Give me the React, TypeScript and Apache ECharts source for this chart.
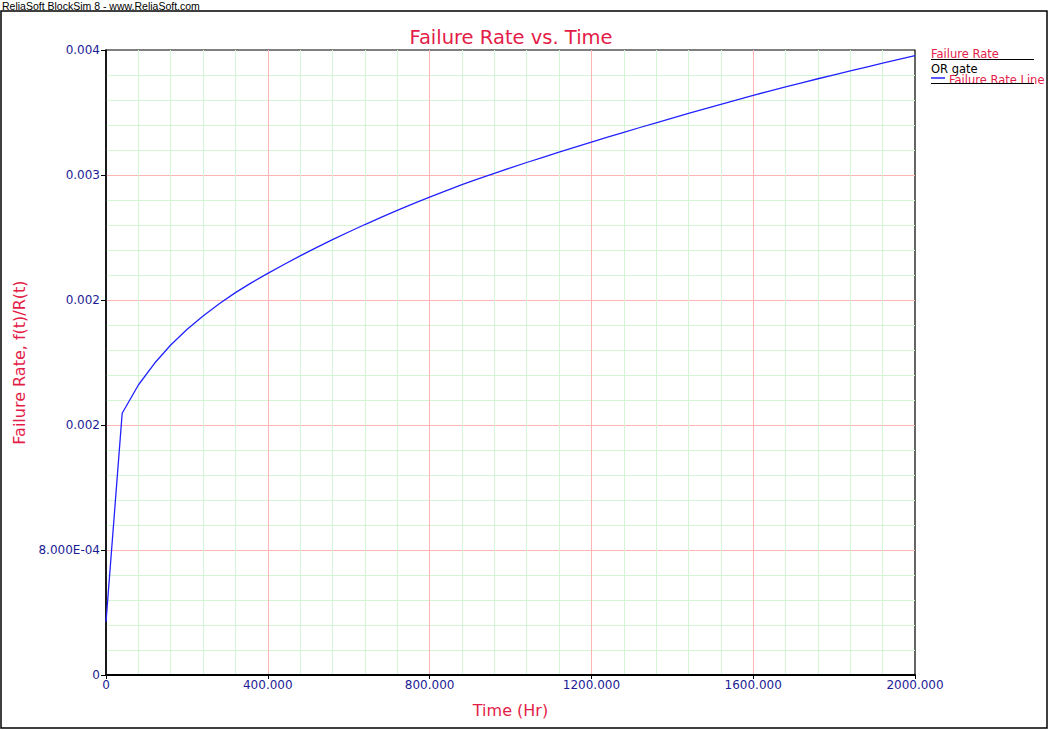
import React, { useEffect, useRef } from "react";
import * as echarts from "echarts";

const times = [0, 40, 80, 120, 160, 200, 240, 280, 320, 360, 400, 440, 480, 520, 560, 600, 640, 680, 720, 760, 800, 840, 880, 920, 960, 1000, 1040, 1080, 1120, 1160, 1200, 1240, 1280, 1320, 1360, 1400, 1440, 1480, 1520, 1560, 1600, 1640, 1680, 1720, 1760, 1800, 1840, 1880, 1920, 1960, 2000];
const failureRate = [
  0.00034, 0.001675, 0.001856, 0.001995, 0.002112, 0.002211, 0.002298, 0.002376, 0.002447, 0.002511,
  0.00257, 0.002627, 0.002682, 0.002735, 0.002786, 0.002835, 0.002883, 0.002929, 0.002974, 0.003017,
  0.003059, 0.003099, 0.003138, 0.003175, 0.003211, 0.003246, 0.00328, 0.003313, 0.003346, 0.003378,
  0.00341, 0.003442, 0.003473, 0.003504, 0.003534, 0.003564, 0.003594, 0.003623, 0.003652, 0.003681,
  0.00371, 0.003737, 0.003764, 0.00379, 0.003816, 0.003841, 0.003866, 0.003891, 0.003916, 0.00394,
  0.003964,
];
const yTickLabels = ["0", "8.000E-04", "0.002", "0.002", "0.003", "0.004"];
const xTickLabels = ["0", "400.000", "800.000", "1200.000", "1600.000", "2000.000"];

const FONT = "DejaVu Sans";
const NAVY = "#1c1c96";
const CRIMSON = "#e31c48";
const PINK = "#ffb4b4";
const GREEN = "#d4f6d4";

export default function App() {
  const ref = useRef<HTMLDivElement>(null);
  useEffect(() => {
    document.body.style.margin = "0";
    const chart = echarts.init(ref.current!, null, { renderer: "svg" });
    chart.setOption({
      animation: false,
      backgroundColor: "#fff",
      textStyle: { fontFamily: FONT },
      title: {
        text: "Failure Rate vs. Time",
        left: 506,
        textAlign: "center",
        top: 22,
        textStyle: { color: CRIMSON, fontSize: 19.5, fontWeight: "normal", fontFamily: FONT },
      },
      grid: {
        left: 106,
        right: 135,
        top: 50,
        bottom: 55,
        show: true,
        borderColor: "#000",
        borderWidth: 1.2,
        containLabel: false,
      },
      xAxis: {
        type: "value",
        min: 0,
        max: 2000,
        interval: 400,
        name: "Time (Hr)",
        nameLocation: "middle",
        nameGap: 27,
        nameTextStyle: { color: CRIMSON, fontSize: 16, fontFamily: FONT },
        axisLine: { show: true, lineStyle: { color: "#000", width: 2 } },
        axisTick: { show: true, length: 4, lineStyle: { color: "#000" } },
        axisLabel: {
          color: NAVY,
          fontSize: 12,
          fontFamily: FONT,
          margin: 4,
          formatter: (v: number) => xTickLabels[Math.round(v / 400)],
        },
        splitLine: { show: true, showMinLine: false, showMaxLine: false, lineStyle: { color: PINK, width: 1 } },
        minorTick: { show: false, splitNumber: 5 },
        minorSplitLine: { show: true, lineStyle: { color: GREEN, width: 1 } },
      },
      yAxis: {
        type: "value",
        min: 0,
        max: 0.004,
        interval: 0.0008,
        name: "Failure Rate, f(t)/R(t)",
        nameLocation: "middle",
        nameGap: 76,
        nameTextStyle: { color: CRIMSON, fontSize: 16, fontFamily: FONT },
        axisLine: { show: true, lineStyle: { color: "#000", width: 1.5 } },
        axisTick: { show: true, length: 5, lineStyle: { color: "#000" } },
        axisLabel: {
          color: NAVY,
          fontSize: 12,
          fontFamily: FONT,
          margin: 6,
          formatter: (v: number) => yTickLabels[Math.round(v / 0.0008)],
        },
        splitLine: { show: true, showMinLine: false, showMaxLine: false, lineStyle: { color: PINK, width: 1 } },
        minorTick: { show: false, splitNumber: 5 },
        minorSplitLine: { show: true, lineStyle: { color: GREEN, width: 1 } },
      },
      series: [
        {
          type: "line",
          name: "Failure Rate Line",
          data: times.map((t, i) => [t, failureRate[i]]),
          showSymbol: false,
          symbol: "none",
          lineStyle: { color: "#2222ff", width: 1.3 },
          z: 10,
        },
      ],
      graphic: [
        {
          type: "rect",
          shape: { x: 1, y: 11, width: 1046, height: 717 },
          style: { fill: "none", stroke: "#000", lineWidth: 1.5 },
          silent: true,
        },
        {
          type: "text",
          x: 2,
          y: 0,
          style: { text: "ReliaSoft BlockSim 8 - www.ReliaSoft.com", fill: "#000", font: "10.5px 'Liberation Sans'" },
        },
        {
          type: "text",
          x: 931,
          y: 48,
          style: { text: "Failure Rate", fill: CRIMSON, font: `11.5px ${FONT}` },
        },
        {
          type: "line",
          shape: { x1: 931, y1: 59.5, x2: 1034, y2: 59.5 },
          style: { stroke: "#000", lineWidth: 1 },
        },
        {
          type: "text",
          x: 931,
          y: 63,
          style: { text: "OR gate", fill: "#000", font: `11.5px ${FONT}` },
        },
        {
          type: "line",
          shape: { x1: 931, y1: 78, x2: 945, y2: 78 },
          style: { stroke: "#2222ff", lineWidth: 1.5 },
        },
        {
          type: "text",
          x: 949,
          y: 74,
          style: { text: "Failure Rate Line", fill: CRIMSON, font: `11.5px ${FONT}` },
        },
        {
          type: "line",
          shape: { x1: 931, y1: 83.5, x2: 1034, y2: 83.5 },
          style: { stroke: "#000", lineWidth: 1 },
        },
      ],
    });
    return () => chart.dispose();
  }, []);
  return <div ref={ref} style={{ width: 1050, height: 730 }} />;
}
